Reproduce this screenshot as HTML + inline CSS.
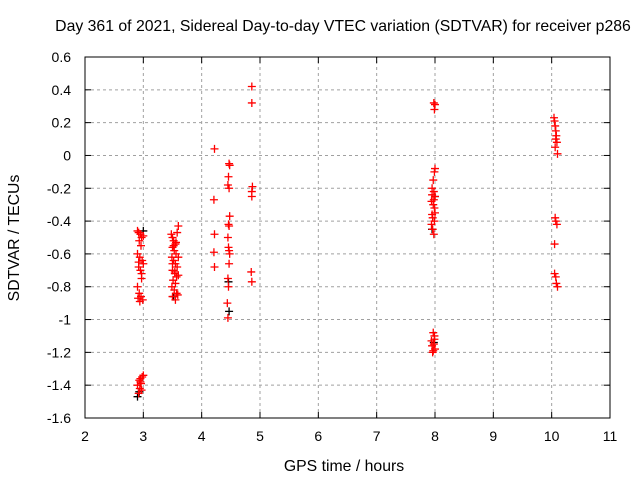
<!DOCTYPE html>
<html><head><meta charset="utf-8"><style>
body{margin:0;background:#fff;width:640px;height:480px;overflow:hidden}
text{font-family:"Liberation Sans",sans-serif;font-size:14px;fill:#000}
.big{font-size:15.8px}
</style></head><body>
<svg id="chart" width="640" height="480" xmlns="http://www.w3.org/2000/svg">
<text class="big" x="343" y="31" text-anchor="middle">Day 361 of 2021, Sidereal Day-to-day VTEC variation (SDTVAR) for receiver p286</text>
<text class="big" x="344" y="471" text-anchor="middle">GPS time / hours</text>
<text class="big" transform="translate(19,238) rotate(-90)" text-anchor="middle">SDTVAR / TECUs</text>
<g id="grid"></g><g id="axes"></g><g id="marks"></g>
<rect x="85" y="57" width="525" height="361" fill="none" stroke="#000" stroke-width="1"/>
</svg>
<script>
const xTicks=[2,3,4,5,6,7,8,9,10,11];
const yTicks=[0.6,0.4,0.2,0,-0.2,-0.4,-0.6,-0.8,-1,-1.2,-1.4,-1.6];
const yTickLabels=["0.6","0.4","0.2","0","-0.2","-0.4","-0.6","-0.8","-1","-1.2","-1.4","-1.6"];
const hoursA=[2.9,2.92,2.95,2.97,3.0,2.93,2.96,2.9,2.94,2.98,3.0,2.92,2.95,2.97,2.9,2.93,2.96,2.99,2.91,2.94,2.97,2.92,2.95,2.98,2.93,2.96,2.9,2.94,2.97,3.0,2.92,2.95];
const valsA=[-0.46,-0.47,-0.48,-0.5,-0.49,-0.52,-0.55,-0.6,-0.62,-0.64,-0.66,-0.68,-0.7,-0.72,-0.8,-0.84,-0.86,-0.88,-0.87,-0.89,-0.75,-0.65,-1.36,-1.35,-1.37,-1.39,-1.4,-1.42,-1.43,-1.34,-1.45,-1.38];
const hoursB=[3.48,3.5,3.52,3.55,3.58,3.6,3.5,3.53,3.56,3.49,3.52,3.55,3.58,3.5,3.54,3.57,3.6,3.51,3.55,3.49,3.53,3.57,3.5,3.55,3.59,3.52,3.56,3.6,3.5,3.54];
const valsB=[-0.48,-0.5,-0.52,-0.54,-0.47,-0.43,-0.56,-0.58,-0.6,-0.62,-0.64,-0.66,-0.68,-0.7,-0.72,-0.74,-0.73,-0.76,-0.78,-0.8,-0.82,-0.84,-0.86,-0.88,-0.85,-0.55,-0.53,-0.62,-0.66,-0.71];
const hoursC=[4.22,4.21,4.22,4.21,4.22];
const valsC=[0.04,-0.27,-0.48,-0.59,-0.68];
const hoursD=[4.47,4.48,4.46,4.45,4.47,4.48,4.46,4.47,4.45,4.46,4.48,4.47,4.45,4.46,4.44,4.45,4.47];
const valsD=[-0.05,-0.06,-0.13,-0.18,-0.2,-0.37,-0.42,-0.43,-0.5,-0.56,-0.6,-0.66,-0.75,-0.8,-0.9,-0.99,-0.58];
const hoursE=[4.86,4.86,4.87,4.86,4.86,4.85,4.86];
const valsE=[0.42,0.32,-0.19,-0.22,-0.25,-0.71,-0.77];
const hoursF=[7.98,8.0,7.99,8.0,7.99,7.97,7.95,7.98,8.0,7.94,7.97,7.99,7.95,7.98,8.0,7.96,7.99,7.94,7.96,7.98,7.95,7.97,7.99,7.94,7.98,8.0,7.96,7.99,7.95,7.97];
const valsF=[0.32,0.31,0.28,-0.08,-0.1,-0.15,-0.2,-0.22,-0.25,-0.28,-0.3,-0.32,-0.24,-0.27,-0.35,-0.38,-0.4,-0.42,-0.45,-0.48,-0.36,-1.08,-1.1,-1.13,-1.15,-1.18,-1.2,-1.12,-1.16,-1.19];
const hoursG=[10.04,10.05,10.06,10.07,10.08,10.07,10.09,10.06,10.1,10.06,10.07,10.09,10.05,10.05,10.07,10.08,10.1];
const valsG=[0.23,0.21,0.18,0.15,0.12,0.1,0.08,0.05,0.01,-0.38,-0.4,-0.42,-0.54,-0.72,-0.74,-0.78,-0.8];
const blackHours=[2.9,2.93,3.0,3.52,4.47,4.46,7.95,7.98,8.0];
const blackVals=[-1.47,-1.44,-0.46,-0.86,-0.95,-0.77,-0.45,-1.14,-0.25];

const NS="http://www.w3.org/2000/svg";
const X0=85,X1=610,Y0=418,Y1=57;
const xs=v=>X0+(v-2)/9*(X1-X0);
const ys=v=>Y0-(v+1.6)/2.2*(Y0-Y1);
function mk(t,a,p){const e=document.createElementNS(NS,t);for(const k in a)e.setAttribute(k,a[k]);p.appendChild(e);return e;}
const grid=document.getElementById('grid'),axes=document.getElementById('axes'),marks=document.getElementById('marks');
xTicks.forEach((t,i)=>{
  const x=xs(t);
  if(i>0&&i<xTicks.length-1){const g=mk('line',{x1:x,x2:x,y1:Y0,y2:Y1,stroke:'#a0a0a0','stroke-dasharray':'3,3'},grid);
  
  }
  mk('line',{x1:x,x2:x,y1:Y0,y2:Y0-6,stroke:'#000'},axes);
  mk('line',{x1:x,x2:x,y1:Y1,y2:Y1+6,stroke:'#000'},axes);
  const l=mk('text',{x:x,y:Y0+23,'text-anchor':'middle'},axes);l.textContent=t;
  
  
});
yTicks.forEach((t,i)=>{
  const y=ys(t);
  if(i>0&&i<yTicks.length-1){const g=mk('line',{x1:X0,x2:X1,y1:y,y2:y,stroke:'#a0a0a0','stroke-dasharray':'3,3'},grid);
  
  }
  mk('line',{x1:X0,x2:X0+6,y1:y,y2:y,stroke:'#000'},axes);
  mk('line',{x1:X1,x2:X1-6,y1:y,y2:y,stroke:'#000'},axes);
  const l=mk('text',{x:X0-14,y:y+5,'text-anchor':'end'},axes);l.textContent=yTickLabels[i];
  
  
});
function plus(h,v,col){
  const x=xs(h),y=ys(v);
  const p=mk('path',{d:`M${x-4},${y}H${x+4}M${x},${y-4}V${y+4}`,stroke:col,'stroke-width':1.3,fill:'none'},marks);
  
  
}
blackHours.forEach((h,i)=>plus(h,blackVals[i],'#000'));
[[hoursA,valsA],[hoursB,valsB],[hoursC,valsC],[hoursD,valsD],[hoursE,valsE],[hoursF,valsF],[hoursG,valsG]].forEach(([H,V])=>H.forEach((h,i)=>plus(h,V[i],'#ff0000')));
</script>
</body></html>
